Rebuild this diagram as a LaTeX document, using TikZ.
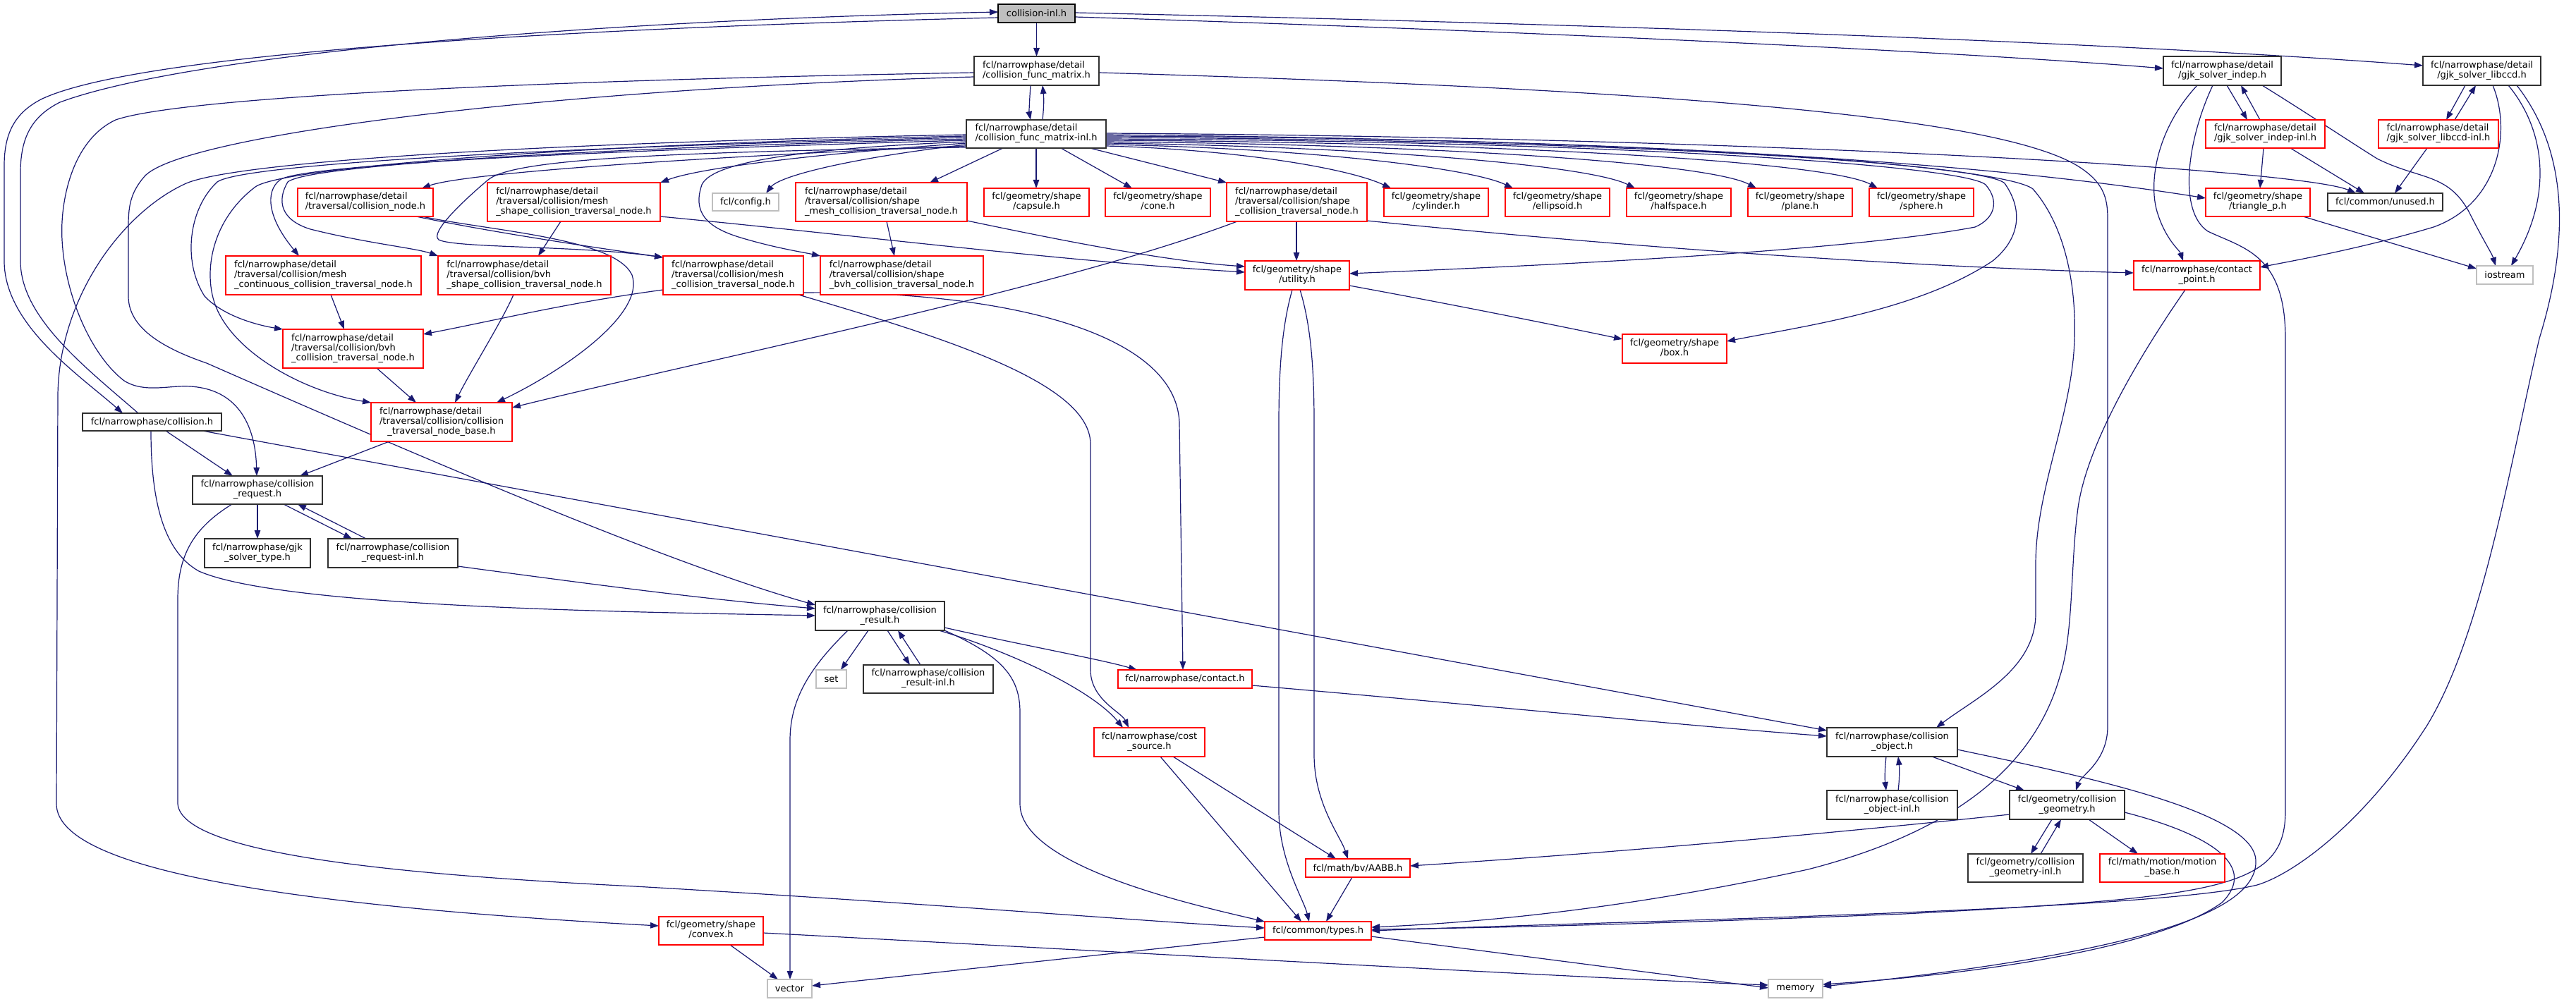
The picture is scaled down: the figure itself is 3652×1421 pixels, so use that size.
\documentclass[tikz,border=0pt]{standalone}
\usepackage{fontspec}
\setmainfont{DejaVu Sans}
\usetikzlibrary{arrows.meta}
\pgfdeclarelayer{bg}
\pgfsetlayers{bg,main}
\definecolor{edgec}{HTML}{191970}
\definecolor{grayb}{HTML}{BFBFBF}
\definecolor{redb}{HTML}{FF0000}
\definecolor{blkb}{HTML}{303030}
\newcommand{\twol}[2]{\begin{tabular}{@{}l@{}}#1\\\multicolumn{1}{@{}c@{}}{#2}\end{tabular}}
\newcommand{\threel}[3]{\begin{tabular}{@{}l@{}}#1\\#2\\\multicolumn{1}{@{}c@{}}{#3}\end{tabular}}
\newcommand{\nb}[7]{\node[#1,minimum width={(#5-#3)*1bp},minimum height={(#6-#4)*1bp}] (#2) at ({(#3+#5)/2},{(#4+#6)/2}) {#7};}
\tikzset{
  nbase/.style={rectangle, inner sep=0pt, outer sep=0pt, line width=1.3bp, fill=white, text=black, font=\fontsize{13bp}{14bp}\selectfont},
  nr/.style={nbase, draw=redb},
  nk/.style={nbase, draw=blkb},
  ng/.style={nbase, draw=grayb},
  nroot/.style={nbase, draw=black, fill=grayb},
  edg/.style={draw=edgec, line width=1.2bp, -{Triangle[length=12bp,width=8.5bp]}}
}
\begin{document}
\begin{tikzpicture}[x=1bp,y=-1bp]
\useasboundingbox (0,0) rectangle (3652,1421);
\nb{nroot}{root}{1415}{6}{1524}{32}{collision-inl.h}
\nb{nk}{cfm}{1381}{80}{1558}{121}{\twol{fcl/narrowphase/detail}{/collision\_func\_matrix.h}}
\nb{nk}{cfmi}{1370}{170}{1568}{210}{\twol{fcl/narrowphase/detail}{/collision\_func\_matrix-inl.h}}
\nb{nr}{cnode}{422}{267}{614}{307}{\twol{fcl/narrowphase/detail}{/traversal/collision\_node.h}}
\nb{nr}{mshape}{691}{259}{936}{314}{\threel{fcl/narrowphase/detail}{/traversal/collision/mesh}{\_shape\_collision\_traversal\_node.h}}
\nb{ng}{config}{1010}{274}{1104}{299}{fcl/config.h}
\nb{nr}{shmesh}{1128}{259}{1371}{314}{\threel{fcl/narrowphase/detail}{/traversal/collision/shape}{\_mesh\_collision\_traversal\_node.h}}
\nb{nr}{capsule}{1395}{267}{1544}{307}{\twol{fcl/geometry/shape}{/capsule.h}}
\nb{nr}{cone}{1567}{267}{1716}{307}{\twol{fcl/geometry/shape}{/cone.h}}
\nb{nr}{shcoll}{1739}{259}{1938}{314}{\threel{fcl/narrowphase/detail}{/traversal/collision/shape}{\_collision\_traversal\_node.h}}
\nb{nr}{cyl}{1962}{267}{2110}{307}{\twol{fcl/geometry/shape}{/cylinder.h}}
\nb{nr}{ell}{2134}{267}{2282}{307}{\twol{fcl/geometry/shape}{/ellipsoid.h}}
\nb{nr}{half}{2306}{267}{2454}{307}{\twol{fcl/geometry/shape}{/halfspace.h}}
\nb{nr}{plane}{2478}{267}{2626}{307}{\twol{fcl/geometry/shape}{/plane.h}}
\nb{nr}{sphere}{2650}{267}{2798}{307}{\twol{fcl/geometry/shape}{/sphere.h}}
\nb{nk}{gjki}{3067}{80}{3234}{121}{\twol{fcl/narrowphase/detail}{/gjk\_solver\_indep.h}}
\nb{nk}{gjkl}{3435}{80}{3602}{121}{\twol{fcl/narrowphase/detail}{/gjk\_solver\_libccd.h}}
\nb{nr}{gjkii}{3127}{170}{3296}{210}{\twol{fcl/narrowphase/detail}{/gjk\_solver\_indep-inl.h}}
\nb{nr}{gjkli}{3372}{170}{3542}{210}{\twol{fcl/narrowphase/detail}{/gjk\_solver\_libccd-inl.h}}
\nb{nr}{tri}{3127}{267}{3275}{307}{\twol{fcl/geometry/shape}{/triangle\_p.h}}
\nb{nk}{unused}{3300}{274}{3463}{299}{fcl/common/unused.h}
\nb{nr}{cpoint}{3025}{370}{3204}{411}{\twol{fcl/narrowphase/contact}{\_point.h}}
\nb{ng}{iostream}{3511}{377}{3591}{403}{iostream}
\nb{nr}{mcont}{320}{363}{597}{418}{\threel{fcl/narrowphase/detail}{/traversal/collision/mesh}{\_continuous\_collision\_traversal\_node.h}}
\nb{nr}{bvhshape}{621}{363}{866}{418}{\threel{fcl/narrowphase/detail}{/traversal/collision/bvh}{\_shape\_collision\_traversal\_node.h}}
\nb{nr}{mcoll}{940}{363}{1139}{418}{\threel{fcl/narrowphase/detail}{/traversal/collision/mesh}{\_collision\_traversal\_node.h}}
\nb{nr}{shbvh}{1163}{363}{1394}{418}{\threel{fcl/narrowphase/detail}{/traversal/collision/shape}{\_bvh\_collision\_traversal\_node.h}}
\nb{nr}{utility}{1765}{370}{1913}{411}{\twol{fcl/geometry/shape}{/utility.h}}
\nb{nr}{bvhcoll}{401}{467}{600}{522}{\threel{fcl/narrowphase/detail}{/traversal/collision/bvh}{\_collision\_traversal\_node.h}}
\nb{nr}{box}{2300}{474}{2448}{515}{\twol{fcl/geometry/shape}{/box.h}}
\nb{nr}{tbase}{526}{571}{726}{626}{\threel{fcl/narrowphase/detail}{/traversal/collision/collision}{\_traversal\_node\_base.h}}
\nb{nk}{colh}{117}{586}{314}{611}{fcl/narrowphase/collision.h}
\nb{nk}{creq}{273}{675}{457}{715}{\twol{fcl/narrowphase/collision}{\_request.h}}
\nb{nk}{gjktype}{290}{764}{440}{805}{\twol{fcl/narrowphase/gjk}{\_solver\_type.h}}
\nb{nk}{creqi}{465}{764}{649}{805}{\twol{fcl/narrowphase/collision}{\_request-inl.h}}
\nb{nk}{cres}{1156}{853}{1339}{894}{\twol{fcl/narrowphase/collision}{\_result.h}}
\nb{ng}{set}{1157}{950}{1200}{976}{set}
\nb{nk}{cresi}{1224}{943}{1408}{983}{\twol{fcl/narrowphase/collision}{\_result-inl.h}}
\nb{nr}{contact}{1585}{950}{1775}{976}{fcl/narrowphase/contact.h}
\nb{nr}{cost}{1551}{1032}{1708}{1073}{\twol{fcl/narrowphase/cost}{\_source.h}}
\nb{nk}{cobj}{2590}{1032}{2775}{1073}{\twol{fcl/narrowphase/collision}{\_object.h}}
\nb{nk}{cobji}{2590}{1121}{2775}{1162}{\twol{fcl/narrowphase/collision}{\_object-inl.h}}
\nb{nk}{cgeom}{2849}{1121}{3012}{1162}{\twol{fcl/geometry/collision}{\_geometry.h}}
\nb{nk}{cgeomi}{2790}{1211}{2953}{1251}{\twol{fcl/geometry/collision}{\_geometry-inl.h}}
\nb{nr}{motion}{2977}{1211}{3154}{1251}{\twol{fcl/math/motion/motion}{\_base.h}}
\nb{nr}{aabb}{1851}{1218}{1999}{1244}{fcl/math/bv/AABB.h}
\nb{nr}{types}{1793}{1307}{1944}{1333}{fcl/common/types.h}
\nb{nr}{convex}{934}{1300}{1082}{1340}{\twol{fcl/geometry/shape}{/convex.h}}
\nb{ng}{vector}{1088}{1389}{1151}{1415}{vector}
\nb{ng}{memory}{2507}{1389}{2584}{1415}{memory}
\begin{pgfonlayer}{bg}
% root
\draw[edg] (root.south) -- (cfm.north);
\draw[edg] (root.west |- 0,25) .. controls (800,40) and (200,75) .. (60,140) .. controls (20,160) and (6,190) .. (6,235) -- (6,370) .. controls (6,460) and (110,530) .. (colh.north -| 174,0);
\draw[edg] (colh.north -| 196,0) .. controls (120,520) and (29,450) .. (29,370) -- (29,245) .. controls (29,195) and (45,165) .. (85,145) .. controls (260,80) and (800,30) .. (root.west |- 0,17);
\draw[edg] (root.east |- 0,24) .. controls (2200,45) and (2800,75) .. (gjki.west |- 0,97);
\draw[edg] (root.east |- 0,18) .. controls (2300,35) and (3000,60) .. (gjkl.west |- 0,93);
% cfm
\draw[edg] (cfm.south -| 1461,0) .. controls (1459,150) and (1459,160) .. (cfmi.north -| 1461,0);
\draw[edg] (cfmi.north -| 1478,0) .. controls (1480,150) and (1480,140) .. (cfm.south -| 1478,0);
\draw[edg] (cfm.west |- 0,103) .. controls (700,115) and (250,140) .. (164,170) .. controls (100,200) and (85,290) .. (88,340) .. controls (92,420) and (130,505) .. (176,540) .. controls (205,558) and (240,546) .. (270,548) .. controls (335,552) and (362,600) .. (creq.north -| 364,0);
\draw[edg] (cfm.west |- 0,109) .. controls (800,125) and (260,190) .. (205,250) .. controls (186,272) and (182,290) .. (182,320) -- (182,420) .. controls (182,460) and (220,490) .. (293,515) .. controls (600,650) and (950,800) .. (cres.west |- 0,858);
\draw[edg] (cfm.east |- 0,103) .. controls (2300,125) and (2820,160) .. (2945,235) .. controls (2982,258) and (2988,280) .. (2988,310) -- (2988,1030) .. controls (2988,1080) and (2950,1100) .. (cgeom.north -| 2943,0);
% cfmi left fan
\draw[edg] (cfmi.west |- 0,207) .. controls (1000,222) and (660,245) .. (cnode.north -| 598,0);
\draw[edg] (cfmi.west |- 0,203) .. controls (1200,215) and (1000,235) .. (mshape.north east);
\draw[edg] (cfmi.west |- 0,199) .. controls (900,212) and (430,232) .. (397,255) .. controls (375,272) and (380,310) .. (mcont.north -| 424,0);
\draw[edg] (cfmi.west |- 0,197) .. controls (900,208) and (440,232) .. (408,258) .. controls (392,285) and (398,312) .. (440,325) .. controls (520,345) and (590,352) .. (bvhshape.north west);
\draw[edg] (cfmi.west |- 0,195) .. controls (800,208) and (345,232) .. (308,258) .. controls (268,295) and (258,370) .. (290,420) .. controls (318,450) and (370,462) .. (bvhcoll.north west);
\draw[edg] (cfmi.west |- 0,193) .. controls (800,205) and (400,238) .. (362,265) .. controls (300,312) and (288,385) .. (305,432) .. controls (330,500) and (430,555) .. (tbase.north west);
\draw[edg] (cfmi.west |- 0,191) .. controls (700,204) and (330,232) .. (264,260) .. controls (175,300) and (84,420) .. (82,560) -- (80,1140) .. controls (80,1235) and (420,1285) .. (convex.west |- 0,1313);
\draw[edg] (cfmi.west |- 0,209) .. controls (900,216) and (725,228) .. (692,255) .. controls (660,282) and (608,330) .. (622,340) .. controls (645,352) and (820,348) .. ([yshift=-2bp]mcoll.north west);
\draw[edg] (cfmi.west |- 0,205) .. controls (1200,225) and (1105,250) .. (config.north -| 1086,0);
\draw[edg] (cfmi.west |- 0,201) .. controls (1150,210) and (1010,228) .. (995,262) .. controls (982,300) and (1000,322) .. (1050,337) .. controls (1100,352) and (1140,358) .. (shbvh.north west);
% cfmi down
\draw[edg] (cfmi.south -| 1422,0) -- (shmesh.north -| 1318,0);
\draw[edg] (cfmi.south -| 1469,0) -- (capsule.north -| 1469,0);
\draw[edg] (cfmi.south -| 1504,0) -- (cone.north -| 1605,0);
\draw[edg] (cfmi.south -| 1545,0) -- (shcoll.north west);
% cfmi right fan
\draw[edg] (cfmi.east |- 0,207) .. controls (1750,212) and (1910,238) .. (cyl.north -| 1972,0);
\draw[edg] (cfmi.east |- 0,205) .. controls (1850,210) and (2085,238) .. (ell.north -| 2145,0);
\draw[edg] (cfmi.east |- 0,203) .. controls (1950,208) and (2255,235) .. (half.north -| 2318,0);
\draw[edg] (cfmi.east |- 0,201) .. controls (2050,205) and (2425,232) .. (plane.north -| 2490,0);
\draw[edg] (cfmi.east |- 0,199) .. controls (2150,202) and (2595,230) .. (sphere.north -| 2662,0);
\draw[edg] (cfmi.east |- 0,197) .. controls (2300,200) and (2785,235) .. (2815,262) .. controls (2835,285) and (2828,310) .. (2800,322) .. controls (2600,360) and (2100,380) .. (utility.east |- 0,388);
\draw[edg] (cfmi.east |- 0,195) .. controls (2300,198) and (2815,232) .. (2842,260) .. controls (2870,300) and (2862,340) .. (2825,370) .. controls (2720,440) and (2560,462) .. (box.east |- 0,484);
\draw[edg] (cfmi.east |- 0,193) .. controls (2400,196) and (2845,238) .. (2882,268) .. controls (2932,325) and (2946,420) .. (2940,500) .. controls (2932,600) and (2886,700) .. (2886,800) -- (2886,870) .. controls (2886,950) and (2800,990) .. (cobj.north -| 2745,0);
\draw[edg] (cfmi.east |- 0,191) .. controls (2500,200) and (2900,245) .. (tri.west |- 0,281);
\draw[edg] (cfmi.east |- 0,189) .. controls (2500,195) and (3260,240) .. (unused.north -| 3340,0);
% cnode
\draw[edg] (cnode.south -| 590,0) .. controls (700,330) and (850,352) .. ([yshift=-2bp]mcoll.north west);
\draw[edg] (cnode.south -| 598,0) .. controls (700,328) and (872,338) .. (896,390) .. controls (915,445) and (800,525) .. (tbase.north -| 704,0);
% mshape
\draw[edg] (mshape.south -| 795,0) -- (bvhshape.north -| 763,0);
\draw[edg] (mshape.east |- 0,307) .. controls (1200,332) and (1500,370) .. (utility.west |- 0,386);
% mcont, bvhshape, bvhcoll
\draw[edg] (mcont.south -| 469,0) -- (bvhcoll.north -| 488,0);
\draw[edg] (bvhshape.south -| 728,0) .. controls (712,455) and (665,530) .. (tbase.north -| 645,0);
\draw[edg] (bvhcoll.south -| 534,0) -- (tbase.north -| 590,0);
% mcoll
\draw[edg] (mcoll.west |- 0,411) .. controls (800,430) and (700,455) .. (bvhcoll.east |- 0,474);
\draw[edg] (mcoll.south -| 1132,0) .. controls (1350,482) and (1546,545) .. (1546,630) -- (1546,950) .. controls (1546,992) and (1590,1010) .. (cost.north -| 1600,0);
\draw[edg] (mcoll.east |- 0,415) .. controls (1420,412) and (1668,470) .. (1672,600) -- (contact.north -| 1677,0);
% shmesh, shcoll
\draw[edg] (shmesh.south -| 1257,0) -- (shbvh.north -| 1268,0);
\draw[edg] (shmesh.east |- 0,313) .. controls (1500,340) and (1650,370) .. (utility.west |- 0,378);
\draw[edg] (shcoll.south -| 1838,0) -- (utility.north -| 1838,0);
\draw[edg] (shcoll.south -| 1754,0) .. controls (1500,410) and (1000,510) .. (tbase.east |- 0,578);
\draw[edg] (shcoll.east |- 0,313) .. controls (2300,350) and (2700,378) .. (cpoint.west |- 0,387);
% utility
\draw[edg] (utility.east |- 0,405) .. controls (2050,430) and (2200,460) .. (box.west |- 0,481);
\draw[edg] (utility.south -| 1832,0) .. controls (1818,460) and (1813,520) .. (1813,600) -- (1813,1150) .. controls (1813,1220) and (1848,1275) .. (types.north -| 1856,0);
\draw[edg] (utility.south -| 1843,0) .. controls (1858,460) and (1863,520) .. (1863,600) -- (1863,1070) .. controls (1863,1140) and (1900,1185) .. (aabb.north -| 1911,0);
% creq
\draw[edg] (creq.south -| 365,0) -- (gjktype.north -| 365,0);
\draw[edg] (creq.south -| 402,0) -- (creqi.north -| 499,0);
\draw[edg] (creqi.north -| 519,0) -- (creq.south -| 422,0);
\draw[edg] (creq.south -| 329,0) .. controls (272,750) and (252,790) .. (252,850) -- (252,1140) .. controls (258,1215) and (600,1242) .. (900,1257) .. controls (1300,1280) and (1600,1305) .. (types.west |- 0,1316);
\draw[edg] (creqi.east |- 0,803) .. controls (850,830) and (1000,850) .. (cres.west |- 0,863);
% colh
\draw[edg] (colh.south -| 235,0) -- (creq.north -| 330,0);
\draw[edg] (colh.south -| 214,0) .. controls (214,700) and (228,780) .. (282,810) .. controls (400,862) and (900,868) .. (cres.west |- 0,873);
\draw[edg] (colh.south -| 287,0) -- (cobj.west |- 0,1036);
% tbase
\draw[edg] (tbase.south -| 552,0) -- (creq.north -| 425,0);
% cres
\draw[edg] (cres.south -| 1231,0) -- (set.north -| 1192,0);
\draw[edg] (cres.south -| 1258,0) -- (cresi.north -| 1290,0);
\draw[edg] (cresi.north -| 1305,0) -- (cres.south -| 1273,0);
\draw[edg] (cres.south -| 1202,0) .. controls (1150,945) and (1120,990) .. (1120,1050) -- (vector.north -| 1120,0);
\draw[edg] (cres.east |- 0,890) .. controls (1450,915) and (1560,935) .. (contact.north -| 1612,0);
\draw[edg] (cres.south -| 1331,0) .. controls (1420,920) and (1545,975) .. (cost.north -| 1592,0);
\draw[edg] (cres.south east) .. controls (1420,930) and (1446,960) .. (1446,1010) -- (1446,1140) .. controls (1446,1230) and (1700,1285) .. (types.north west);
% contact, cost, aabb, types, convex
\draw[edg] (contact.east |- 0,972) .. controls (2100,1000) and (2400,1030) .. (cobj.west |- 0,1044);
\draw[edg] (cost.south -| 1645,0) -- (types.north -| 1845,0);
\draw[edg] (cost.south -| 1663,0) -- (aabb.north -| 1894,0);
\draw[edg] (aabb.south -| 1917,0) -- (types.north -| 1880,0);
\draw[edg] (types.west |- 0,1329) -- (vector.east |- 0,1398);
\draw[edg] (types.east |- 0,1328) -- (memory.west |- 0,1401);
\draw[edg] (convex.south -| 1035,0) -- (vector.north -| 1103,0);
\draw[edg] (convex.east |- 0,1323) .. controls (1500,1345) and (2200,1385) .. (memory.west |- 0,1397);
% cobj
\draw[edg] (cobj.south -| 2674,0) .. controls (2672,1090) and (2672,1105) .. (cobji.north -| 2674,0);
\draw[edg] (cobji.north -| 2691,0) .. controls (2693,1105) and (2693,1090) .. (cobj.south -| 2691,0);
\draw[edg] (cobj.south -| 2739,0) -- (cgeom.north -| 2870,0);
\draw[edg] (cobj.east |- 0,1063) .. controls (2950,1100) and (3195,1150) .. (3198,1220) .. controls (3202,1300) and (3000,1355) .. (memory.east |- 0,1399);
% cgeom
\draw[edg] (cgeom.south -| 2909,0) -- (cgeomi.north -| 2879,0);
\draw[edg] (cgeomi.north -| 2893,0) -- (cgeom.south -| 2922,0);
\draw[edg] (cgeom.south -| 2961,0) -- (motion.north -| 3031,0);
\draw[edg] (cgeom.west |- 0,1155) .. controls (2500,1192) and (2200,1215) .. (aabb.east |- 0,1228);
\draw[edg] (cgeom.east |- 0,1152) .. controls (3140,1185) and (3200,1230) .. (3150,1280) .. controls (3060,1345) and (2800,1382) .. (memory.east |- 0,1396);
% cpoint
\draw[edg] (cpoint.south -| 3098,0) .. controls (3050,480) and (2960,620) .. (2946,720) .. controls (2935,800) and (2940,900) .. (2920,960) .. controls (2880,1100) and (2750,1185) .. (2563,1233) .. controls (2300,1290) and (2100,1308) .. (types.east |- 0,1315);
% gjki
\draw[edg] (gjki.south -| 3115,0) .. controls (3060,180) and (3045,255) .. (3058,300) .. controls (3070,340) and (3090,355) .. (cpoint.north -| 3095,0);
\draw[edg] (gjki.south -| 3137,0) .. controls (3100,200) and (3088,300) .. (3130,328) .. controls (3180,352) and (3240,360) .. (3240,480) -- (3240,1150) .. controls (3240,1260) and (3150,1272) .. (2700,1296) .. controls (2300,1312) and (2100,1316) .. (types.east |- 0,1318);
\draw[edg] (gjki.south -| 3157,0) -- (gjkii.north -| 3186,0);
\draw[edg] (gjkii.north -| 3204,0) -- (gjki.south -| 3177,0);
\draw[edg] (gjki.south -| 3207,0) .. controls (3270,160) and (3330,200) .. (3370,225) .. controls (3430,255) and (3470,245) .. (3500,300) .. controls (3520,340) and (3533,360) .. (iostream.north -| 3538,0);
% gjkii, gjkli
\draw[edg] (gjkii.south -| 3209,0) -- (tri.north -| 3204,0);
\draw[edg] (gjkii.south -| 3247,0) -- (unused.north -| 3352,0);
\draw[edg] (gjkli.south -| 3441,0) -- (unused.north -| 3395,0);
% gjkl
\draw[edg] (gjkl.south -| 3495,0) -- (gjkli.north -| 3468,0);
\draw[edg] (gjkli.north -| 3480,0) -- (gjkl.south -| 3510,0);
\draw[edg] (gjkl.south -| 3534,0) .. controls (3562,190) and (3540,290) .. (3450,322) .. controls (3350,352) and (3250,370) .. (cpoint.east |- 0,379);
\draw[edg] (gjkl.south -| 3556,0) .. controls (3605,180) and (3622,270) .. (iostream.north -| 3560,0);
\draw[edg] (gjkl.south -| 3568,0) .. controls (3645,220) and (3640,350) .. (3600,480) .. controls (3560,650) and (3520,900) .. (3440,1030) .. controls (3350,1170) and (3250,1240) .. (3200,1255) .. controls (3050,1292) and (2300,1306) .. (types.east |- 0,1320);
% tri
\draw[edg] (tri.south -| 3265,0) -- (iostream.west |- 0,381);
\end{pgfonlayer}
\end{tikzpicture}
\end{document}
